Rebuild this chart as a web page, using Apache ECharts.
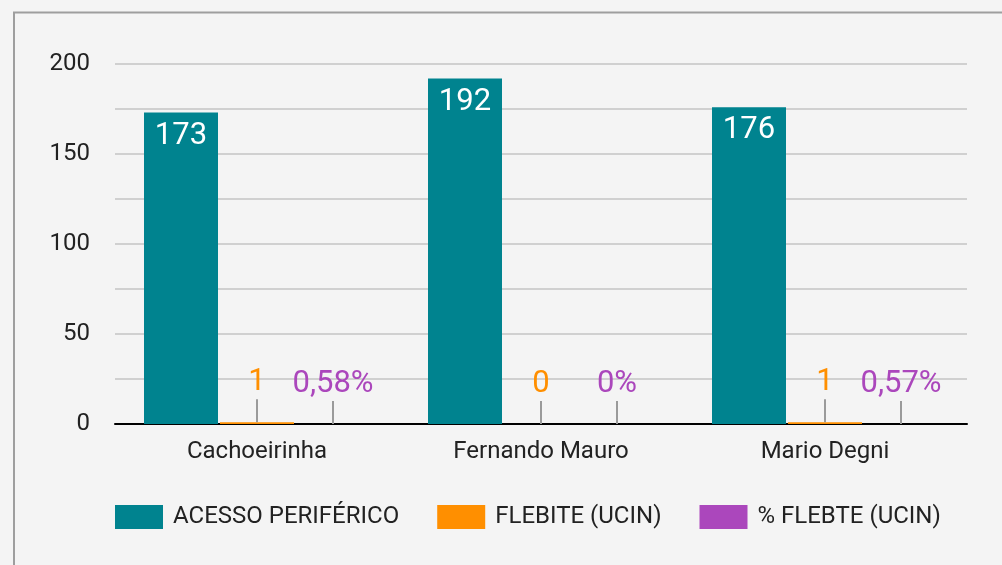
<!DOCTYPE html>
<html>
<head>
<meta charset="utf-8">
<script src="https://cdn.jsdelivr.net/npm/echarts@6/dist/echarts.min.js"></script>
<style>
html,body{margin:0;padding:0;background:#f4f4f4;}
#c{width:1002px;height:565px;}
</style>
</head>
<body>
<div id="c"></div>
<script>
const categories = ['Cachoeirinha', 'Fernando Mauro', 'Mario Degni'];
const acessoPeriferico = [173, 192, 176];
const flebite = [1, 0, 1];
const flebitePct = [0.0058, 0, 0.0057];
const seriesNames = ['ACESSO PERIFÉRICO', 'FLEBITE (UCIN)', '% FLEBTE (UCIN)'];
const yTicks = [0, 50, 100, 150, 200];

const colors = ['#00838f', '#ff8f00', '#ab47bc'];
const FONT = 'Roboto';

function fmtPct(v) {
  if (v === 0) return '0%';
  return (v * 100).toFixed(2).replace('.', ',') + '%';
}

function leaderLabel(color, fmt) {
  return {
    show: true,
    position: 'top',
    distance: 0,
    formatter: p => '{v|' + fmt(p.value) + '}\n{l| }',
    rich: {
      v: { fontFamily: FONT, fontSize: 31, lineHeight: 31, color: color, align: 'center', padding: [0, 0, 2, 0] },
      l: { width: 2, height: 23, lineHeight: 23, fontSize: 1, backgroundColor: '#9a9a9a', align: 'center' }
    }
  };
}

const chart = echarts.init(document.getElementById('c'), null, { renderer: 'canvas' });
chart.setOption({
  backgroundColor: '#f4f4f4',
  animation: false,
  color: colors,
  textStyle: { fontFamily: FONT },
  graphic: [{
    type: 'rect',
    shape: { x: 14, y: 12.5, width: 1100, height: 700 },
    style: { fill: 'none', stroke: '#9e9e9e', lineWidth: 2 },
    silent: true
  }],
  grid: { left: 115, right: 35, top: 64, bottom: 141, containLabel: false },
  legend: {
    left: 115,
    top: 505,
    padding: 0,
    itemWidth: 48,
    itemHeight: 24,
    itemGap: 38,
    icon: 'rect',
    data: seriesNames,
    formatter: n => '{a|' + n + '}',
    textStyle: {
      fontFamily: FONT, fontSize: 24, color: '#222',
      rich: { a: { fontFamily: FONT, fontSize: 24, color: '#222', padding: [0, 0, 0, 5] } }
    }
  },
  xAxis: {
    type: 'category',
    data: categories,
    axisLine: { lineStyle: { color: '#000', width: 2 } },
    axisTick: { show: false },
    axisLabel: { fontFamily: FONT, fontSize: 24, color: '#222', margin: 16 }
  },
  yAxis: {
    type: 'value',
    min: 0,
    max: 200,
    interval: 25,
    axisLine: { show: false },
    axisTick: { show: false },
    splitLine: { lineStyle: { color: '#d0d0d0', width: 2 } },
    axisLabel: {
      fontFamily: FONT, fontSize: 24, color: '#222', margin: 25,
      padding: [4, 0, 0, 0],
      formatter: v => (yTicks.indexOf(v) >= 0 ? String(v) : '')
    }
  },
  series: [
    {
      name: seriesNames[0],
      type: 'bar',
      data: acessoPeriferico,
      barWidth: 74,
      barGap: '2.7%',
      label: {
        show: true, position: 'insideTop', distance: 8,
        fontFamily: FONT, fontSize: 31, color: '#fff'
      }
    },
    {
      name: seriesNames[1],
      type: 'bar',
      data: flebite,
      barWidth: 74,
      barGap: '2.7%',
      label: leaderLabel(colors[1], v => String(v))
    },
    {
      name: seriesNames[2],
      type: 'bar',
      data: flebitePct,
      barWidth: 74,
      barGap: '2.7%',
      label: leaderLabel(colors[2], fmtPct)
    }
  ]
});
</script>
</body>
</html>
